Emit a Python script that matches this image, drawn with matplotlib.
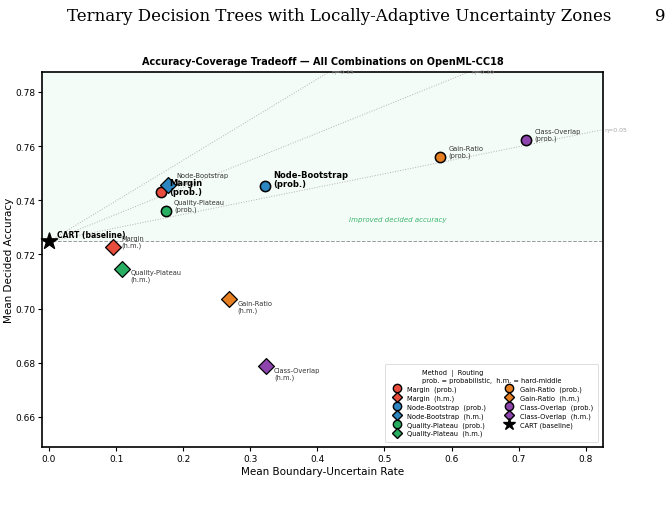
#------------------------------------------------------------------------------
# Accuracy-coverage tradeoff scatter, as it appears on page 9 of the paper.
#------------------------------------------------------------------------------

import matplotlib as mpl
mpl.use('Agg')
import matplotlib.pyplot as plt
from matplotlib.lines import Line2D

methods = ['Margin', 'Node-Bootstrap', 'Quality-Plateau', 'Gain-Ratio', 'Class-Overlap']
method_colours = ['#e74c3c', '#2e86c1', '#27ae60', '#e67e22', '#8e44ad']

# Mean boundary-uncertain rate and mean decided accuracy, per routing mode
prob_rate = [0.167, 0.322, 0.174, 0.583, 0.711]
prob_acc = [0.7429, 0.7453, 0.7361, 0.7561, 0.7624]
hm_rate = [0.095, 0.177, 0.109, 0.268, 0.323]
hm_acc = [0.7228, 0.7456, 0.7148, 0.7034, 0.6787]

cart_rate = 0.0
cart_acc = 0.7248

etas = [0.05, 0.10, 0.15]

# label offsets in points (text placement only)
prob_offsets = [(6, 4), (6, 5), (6, 4), (6, 4), (6, 4)]
prob_bold = [True, True, False, False, False]
hm_offsets = [(6, 4), (6, 5), (6, -5), (6, -5), (6, -5)]

#------------------------------------------------------------------------------
def draw_chart() -> None:
    fig = plt.figure(figsize=(6.72, 5.10), dpi=100)
    fig.text(0.505, 0.968, 'Ternary Decision Trees with Locally-Adaptive Uncertainty Zones',
             ha='center', va='center', fontsize=12, family='DejaVu Serif')
    fig.text(0.982, 0.968, '9', ha='center', va='center', fontsize=12,
             family='DejaVu Serif')

    ax = fig.add_axes([0.0625, 0.1216, 0.8345, 0.7354])
    xlim = (-0.0105, 0.8255)
    ylim = (0.6489, 0.7874)
    ax.set_xlim(*xlim)
    ax.set_ylim(*ylim)

    # Region where decided accuracy beats the baseline
    ax.axhspan(cart_acc, ylim[1], color='#2ecc71', alpha=0.05, zorder=0, lw=0)
    ax.axhline(cart_acc, color='0.6', linestyle='--', linewidth=0.7, zorder=1)
    ax.text(0.52, 0.7332, 'Improved decided accuracy', color='#27ae60',
            fontsize=5, style='italic', ha='center', va='center', alpha=0.9)

    # Iso-efficiency lines from the baseline
    for eta in etas:
        x_end = min(xlim[1], (ylim[1] - cart_acc) / eta)
        y_end = cart_acc + eta * x_end
        ax.plot([cart_rate, x_end], [cart_acc, y_end], ':', color='0.7',
                linewidth=0.7, zorder=1)
        ax.text(x_end + 0.003, y_end, f'\u03b7={eta:.2f}', color='0.65',
                fontsize=4.5, ha='left', va='center', clip_on=False, zorder=6)

    for i, name in enumerate(methods):
        ax.scatter(prob_rate[i], prob_acc[i], s=55, marker='o',
                   color=method_colours[i], edgecolor='black', linewidth=1.1, zorder=4)
        ax.scatter(hm_rate[i], hm_acc[i], s=65, marker='D',
                   color=method_colours[i], edgecolor='black', linewidth=0.9, zorder=4)
        if prob_bold[i]:
            ax.annotate(f'{name}\n(prob.)', (prob_rate[i], prob_acc[i]),
                        xytext=prob_offsets[i], textcoords='offset points',
                        fontsize=6, fontweight='bold', ha='left', va='center',
                        linespacing=1.0, zorder=5)
        else:
            ax.annotate(f'{name}\n(prob.)', (prob_rate[i], prob_acc[i]),
                        xytext=prob_offsets[i], textcoords='offset points',
                        fontsize=4.8, color='0.2', ha='left', va='center',
                        linespacing=1.1, zorder=5)
        ax.annotate(f'{name}\n(h.m.)', (hm_rate[i], hm_acc[i]),
                    xytext=hm_offsets[i], textcoords='offset points',
                    fontsize=4.8, color='0.2', ha='left', va='center',
                    linespacing=1.1, zorder=5)

    ax.scatter(cart_rate, cart_acc, s=150, marker='*', color='black', zorder=5,
               clip_on=False)
    ax.annotate('CART (baseline)', (cart_rate, cart_acc), xytext=(6, 5),
                textcoords='offset points', fontsize=5.5, fontweight='bold',
                ha='left', va='center', zorder=5)

    ax.set_title('Accuracy-Coverage Tradeoff \u2014 All Combinations on OpenML-CC18',
                 fontsize=7, fontweight='bold', pad=6)
    ax.set_xlabel('Mean Boundary-Uncertain Rate', fontsize=7.5, labelpad=2)
    ax.set_ylabel('Mean Decided Accuracy', fontsize=7.5, labelpad=1)
    ax.tick_params(labelsize=6.5, length=3, width=0.8, pad=2)
    for side in ax.spines.values():
        side.set_linewidth(1.2)

    # Legend: one entry per method/routing, plus the baseline
    handles = []
    for i, name in enumerate(methods):
        handles.append(Line2D([], [], marker='o', linestyle='', markersize=6,
                              markerfacecolor=method_colours[i], markeredgecolor='black',
                              label=f'{name}  (prob.)'))
        handles.append(Line2D([], [], marker='D', linestyle='', markersize=5.5,
                              markerfacecolor=method_colours[i], markeredgecolor='black',
                              label=f'{name}  (h.m.)'))
    handles.append(Line2D([], [], marker='*', linestyle='', markersize=9,
                          color='black', label='CART (baseline)'))
    leg = ax.legend(handles=handles, loc='lower right', ncol=2, fontsize=4.8,
                    title='Method  |  Routing\nprob. = probabilistic,  h.m. = hard-middle',
                    title_fontsize=4.8, framealpha=0.9, handletextpad=0.6,
                    columnspacing=2.4, labelspacing=0.35, borderpad=0.8,
                    bbox_to_anchor=(0.998, 0.005))
    leg.get_frame().set_linewidth(0.5)

    fig.savefig('out.png', dpi=100)

#------------------------------------------------------------------------------
if __name__ == '__main__':
    draw_chart()
